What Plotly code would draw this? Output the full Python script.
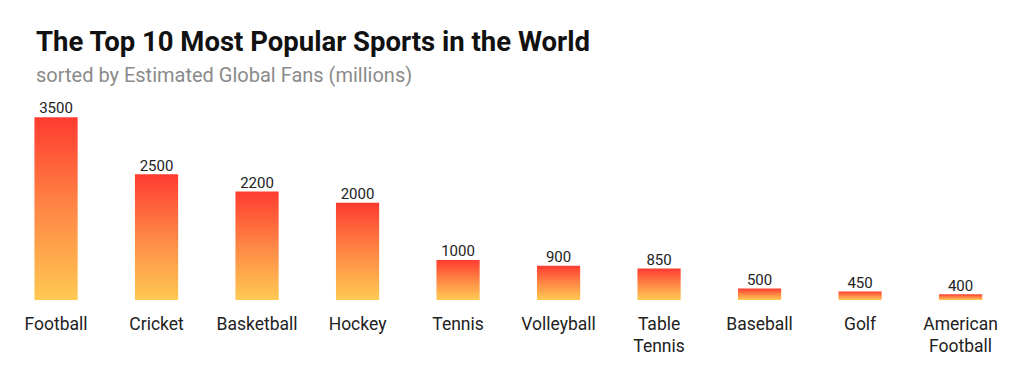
import plotly.graph_objects as go

sports = ["Football", "Cricket", "Basketball", "Hockey", "Tennis", "Volleyball",
          "Table Tennis", "Baseball", "Golf", "American Football"]
tick_labels = ["Football", "Cricket", "Basketball", "Hockey", "Tennis", "Volleyball",
               "Table<br>Tennis", "Baseball", "Golf", "American<br>Football"]
fans = [3500, 2500, 2200, 2000, 1000, 900, 850, 500, 450, 400]

AXIS_FLOOR = 300
AXIS_TOP = 3800
HALF_W = 0.215
GRAD = [[0, "#ffc952"], [0.5, "#ff8745"], [1, "#ff3b30"]]

# page has an 8px body margin; figure sized to fit the 1024x370 window
W, H = 1016, 362
ML, MR, MT, MB = 0, 0, 92, 70

fig = go.Figure()
for i, (name, v) in enumerate(zip(sports, fans)):
    xs = [i - HALF_W, i + HALF_W, i + HALF_W, i - HALF_W, i - HALF_W]
    ys = [AXIS_FLOOR, AXIS_FLOOR, v, v, AXIS_FLOOR]
    fig.add_trace(go.Scatter(
        x=xs, y=ys, mode="lines", line=dict(width=0), fill="toself",
        fillgradient=dict(type="vertical", colorscale=GRAD, start=AXIS_FLOOR, stop=v),
        hoverinfo="skip", showlegend=False, name=name))

fig.add_trace(go.Scatter(
    x=list(range(len(sports))), y=fans, mode="text",
    text=[str(v) for v in fans], textposition="top center",
    textfont=dict(family="Roboto", size=15, color="#222222"),
    showlegend=False, hoverinfo="skip", cliponaxis=False))

plot_h = H - MT - MB
plot_w = W - ML - MR
def py(pix):
    return (H - MB - pix) / plot_h
def px(pix):
    return (pix - ML) / plot_w

fig.update_layout(
    width=W, height=H,
    margin=dict(l=ML, r=MR, t=MT, b=MB),
    paper_bgcolor="white", plot_bgcolor="white",
    xaxis=dict(range=[-0.478, 9.631], tickvals=list(range(len(sports))), ticktext=tick_labels,
               showgrid=False, zeroline=False, showline=False, ticks="",
               tickfont=dict(family="Roboto", size=17.5, color="#222222"),
               ticklabelstandoff=11, fixedrange=True),
    yaxis=dict(range=[AXIS_FLOOR, AXIS_TOP], visible=False, fixedrange=True),
    annotations=[
        dict(text="<b>The Top 10 Most Popular Sports in the World</b>", xref="paper", yref="paper",
             x=px(26), y=py(34), xanchor="left", yanchor="middle", showarrow=False,
             font=dict(family="Roboto", size=27.5, color="#111111")),
        dict(text="sorted by Estimated Global Fans (millions)", xref="paper", yref="paper",
             x=px(26), y=py(67), xanchor="left", yanchor="middle", showarrow=False,
             font=dict(family="Roboto", size=20, color="#8a8a8a")),
    ],
)

fig.write_html("out.html")
